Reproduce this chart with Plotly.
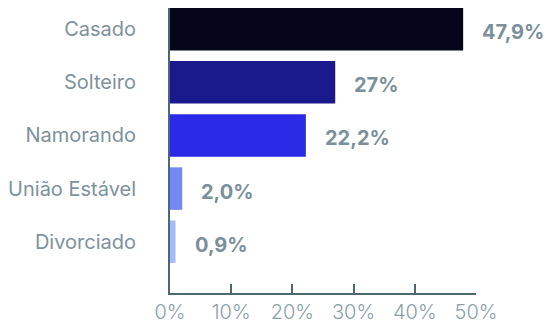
import plotly.graph_objects as go

# Marital status distribution (%)
categories = ["Casado", "Solteiro", "Namorando", "União Estável", "Divorciado"]
values = [47.9, 27.0, 22.2, 2.0, 0.9]
value_labels = ["47,9%", "27%", "22,2%", "2,0%", "0,9%"]
bar_colors = ["#06061a", "#1a1a8c", "#2929e6", "#7388f5", "#a3bbfb"]
tick_values = [0, 10, 20, 30, 40, 50]
tick_labels = ["0%", "10%", "20%", "30%", "40%", "50%"]

axis_color = "#4e6870"
label_color = "#7b909a"
font_family = "Inter, 'Noto Sans', sans-serif"

fig = go.Figure(
    go.Bar(
        x=values,
        y=categories,
        orientation="h",
        marker=dict(color=bar_colors, line=dict(width=0)),
        hoverinfo="skip",
    )
)

for cat, val, lab in zip(categories, values, value_labels):
    fig.add_annotation(
        x=val, y=cat, text=lab, showarrow=False,
        xanchor="left", yanchor="middle", xshift=17, yshift=-3,
        font=dict(family=font_family, size=20, color=label_color, weight="bold"),
    )

fig.update_layout(
    width=546, height=322,
    margin=dict(l=170, r=70, t=8, b=29),
    paper_bgcolor="white", plot_bgcolor="white",
    bargap=0.2,
    showlegend=False,
    font=dict(family=font_family),
)

fig.update_xaxes(
    range=[0, 50],
    tickvals=tick_values, ticktext=tick_labels,
    showgrid=False, zeroline=False,
    showline=True, linecolor=axis_color, linewidth=2,
    ticks="inside", ticklen=9, tickwidth=2, tickcolor=axis_color,
    tickfont=dict(family=font_family, size=20, color="#8a9fa8", weight=300),
    automargin=False,
    fixedrange=True,
)

fig.update_yaxes(
    categoryorder="array", categoryarray=categories,
    range=[4.966, -0.4],
    showgrid=False, zeroline=False,
    showline=True, linecolor=axis_color, linewidth=2,
    ticks="", ticklabelstandoff=28,
    tickfont=dict(family=font_family, size=20, color="#7d929c"),
    layer="below traces",
    automargin=False,
    fixedrange=True,
)

fig.write_html("out.html")
